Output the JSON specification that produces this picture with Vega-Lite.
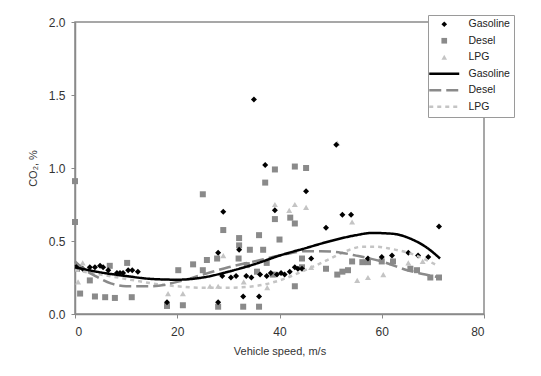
{
  "$schema": "https://vega.github.io/schema/vega-lite/v6.json",
  "width": 409,
  "height": 292,
  "autosize": "none",
  "padding": {"left": 75, "top": 22, "right": 57, "bottom": 62},
  "background": "white",
  "config": {
    "view": {"stroke": "#8a8a8a", "strokeWidth": 1.5},
    "font": "Liberation Sans",
    "axis": {
      "grid": false,
      "domainColor": "#8a8a8a",
      "domainWidth": 1.5,
      "tickColor": "#8a8a8a",
      "labelFont": "Liberation Sans",
      "labelFontSize": 12,
      "labelColor": "#333333",
      "titleFont": "Liberation Sans",
      "titleFontSize": 11,
      "titleFontWeight": "normal",
      "titleColor": "#333333"
    }
  },
  "datasets": {
    "pts": [
      {"fuel": "LPG", "speed": 0.6, "co2": 0.22},
      {"fuel": "LPG", "speed": 1.5, "co2": 0.35},
      {"fuel": "LPG", "speed": 3.0, "co2": 0.30},
      {"fuel": "LPG", "speed": 18.2, "co2": 0.14},
      {"fuel": "LPG", "speed": 21.1, "co2": 0.14},
      {"fuel": "LPG", "speed": 26.4, "co2": 0.19},
      {"fuel": "LPG", "speed": 28.0, "co2": 0.19},
      {"fuel": "LPG", "speed": 29.0, "co2": 0.40},
      {"fuel": "LPG", "speed": 33.0, "co2": 0.22},
      {"fuel": "LPG", "speed": 37.6, "co2": 0.18},
      {"fuel": "LPG", "speed": 39.1, "co2": 0.75},
      {"fuel": "LPG", "speed": 41.9, "co2": 0.71},
      {"fuel": "LPG", "speed": 43.0, "co2": 0.75},
      {"fuel": "LPG", "speed": 45.2, "co2": 0.73},
      {"fuel": "LPG", "speed": 46.2, "co2": 0.32},
      {"fuel": "LPG", "speed": 51.3, "co2": 1.17},
      {"fuel": "LPG", "speed": 54.2, "co2": 0.63},
      {"fuel": "LPG", "speed": 55.2, "co2": 0.23},
      {"fuel": "LPG", "speed": 57.3, "co2": 0.25},
      {"fuel": "LPG", "speed": 60.3, "co2": 0.27},
      {"fuel": "LPG", "speed": 62.0, "co2": 0.35},
      {"fuel": "LPG", "speed": 65.2, "co2": 0.35},
      {"fuel": "LPG", "speed": 68.0, "co2": 0.36},
      {"fuel": "Desel", "speed": 0.0, "co2": 0.91},
      {"fuel": "Desel", "speed": 0.0, "co2": 0.63},
      {"fuel": "Desel", "speed": 0.4, "co2": 0.31},
      {"fuel": "Desel", "speed": 1.0, "co2": 0.14},
      {"fuel": "Desel", "speed": 2.9, "co2": 0.23},
      {"fuel": "Desel", "speed": 3.9, "co2": 0.12},
      {"fuel": "Desel", "speed": 5.9, "co2": 0.115},
      {"fuel": "Desel", "speed": 7.8, "co2": 0.11},
      {"fuel": "Desel", "speed": 6.8, "co2": 0.33},
      {"fuel": "Desel", "speed": 10.2, "co2": 0.35},
      {"fuel": "Desel", "speed": 11.1, "co2": 0.115},
      {"fuel": "Desel", "speed": 18.0, "co2": 0.055},
      {"fuel": "Desel", "speed": 21.1, "co2": 0.06},
      {"fuel": "Desel", "speed": 20.2, "co2": 0.30},
      {"fuel": "Desel", "speed": 23.1, "co2": 0.34},
      {"fuel": "Desel", "speed": 25.0, "co2": 0.82},
      {"fuel": "Desel", "speed": 25.0, "co2": 0.30},
      {"fuel": "Desel", "speed": 25.8, "co2": 0.37},
      {"fuel": "Desel", "speed": 27.8, "co2": 0.38},
      {"fuel": "Desel", "speed": 28.0, "co2": 0.05},
      {"fuel": "Desel", "speed": 29.0, "co2": 0.575},
      {"fuel": "Desel", "speed": 32.1, "co2": 0.52},
      {"fuel": "Desel", "speed": 32.1, "co2": 0.47},
      {"fuel": "Desel", "speed": 32.0, "co2": 0.38},
      {"fuel": "Desel", "speed": 33.6, "co2": 0.335},
      {"fuel": "Desel", "speed": 32.9, "co2": 0.05},
      {"fuel": "Desel", "speed": 34.2, "co2": 0.44},
      {"fuel": "Desel", "speed": 35.6, "co2": 0.29},
      {"fuel": "Desel", "speed": 36.0, "co2": 0.54},
      {"fuel": "Desel", "speed": 36.0, "co2": 0.05},
      {"fuel": "Desel", "speed": 36.8, "co2": 0.44},
      {"fuel": "Desel", "speed": 37.2, "co2": 0.90},
      {"fuel": "Desel", "speed": 37.5, "co2": 0.35},
      {"fuel": "Desel", "speed": 38.7, "co2": 0.27},
      {"fuel": "Desel", "speed": 39.1, "co2": 0.99},
      {"fuel": "Desel", "speed": 39.1, "co2": 0.65},
      {"fuel": "Desel", "speed": 40.0, "co2": 0.51},
      {"fuel": "Desel", "speed": 42.1, "co2": 0.66},
      {"fuel": "Desel", "speed": 43.0, "co2": 0.62},
      {"fuel": "Desel", "speed": 43.0, "co2": 1.01},
      {"fuel": "Desel", "speed": 45.2, "co2": 1.00},
      {"fuel": "Desel", "speed": 43.0, "co2": 0.19},
      {"fuel": "Desel", "speed": 44.4, "co2": 0.38},
      {"fuel": "Desel", "speed": 44.4, "co2": 0.32},
      {"fuel": "Desel", "speed": 49.1, "co2": 0.31},
      {"fuel": "Desel", "speed": 51.3, "co2": 0.27},
      {"fuel": "Desel", "speed": 52.3, "co2": 0.29},
      {"fuel": "Desel", "speed": 53.4, "co2": 0.30},
      {"fuel": "Desel", "speed": 54.2, "co2": 0.36},
      {"fuel": "Desel", "speed": 56.2, "co2": 0.355},
      {"fuel": "Desel", "speed": 57.3, "co2": 0.355},
      {"fuel": "Desel", "speed": 60.0, "co2": 0.36},
      {"fuel": "Desel", "speed": 62.2, "co2": 0.36},
      {"fuel": "Desel", "speed": 65.6, "co2": 0.31},
      {"fuel": "Desel", "speed": 66.9, "co2": 0.30},
      {"fuel": "Desel", "speed": 69.5, "co2": 0.25},
      {"fuel": "Desel", "speed": 71.2, "co2": 0.25},
      {"fuel": "Gasoline", "speed": 0.5, "co2": 0.33},
      {"fuel": "Gasoline", "speed": 1.5, "co2": 0.31},
      {"fuel": "Gasoline", "speed": 2.9, "co2": 0.32},
      {"fuel": "Gasoline", "speed": 3.9, "co2": 0.32},
      {"fuel": "Gasoline", "speed": 4.9, "co2": 0.33},
      {"fuel": "Gasoline", "speed": 5.5, "co2": 0.32},
      {"fuel": "Gasoline", "speed": 6.5, "co2": 0.30},
      {"fuel": "Gasoline", "speed": 8.2, "co2": 0.28},
      {"fuel": "Gasoline", "speed": 8.8, "co2": 0.28},
      {"fuel": "Gasoline", "speed": 9.4, "co2": 0.28},
      {"fuel": "Gasoline", "speed": 10.4, "co2": 0.30},
      {"fuel": "Gasoline", "speed": 11.2, "co2": 0.30},
      {"fuel": "Gasoline", "speed": 12.3, "co2": 0.29},
      {"fuel": "Gasoline", "speed": 18.0, "co2": 0.08},
      {"fuel": "Gasoline", "speed": 28.0, "co2": 0.08},
      {"fuel": "Gasoline", "speed": 28.0, "co2": 0.42},
      {"fuel": "Gasoline", "speed": 29.0, "co2": 0.70},
      {"fuel": "Gasoline", "speed": 28.8, "co2": 0.26},
      {"fuel": "Gasoline", "speed": 30.5, "co2": 0.25},
      {"fuel": "Gasoline", "speed": 31.5, "co2": 0.26},
      {"fuel": "Gasoline", "speed": 32.1, "co2": 0.44},
      {"fuel": "Gasoline", "speed": 32.9, "co2": 0.12},
      {"fuel": "Gasoline", "speed": 33.5, "co2": 0.26},
      {"fuel": "Gasoline", "speed": 34.5, "co2": 0.25},
      {"fuel": "Gasoline", "speed": 35.0, "co2": 1.47},
      {"fuel": "Gasoline", "speed": 36.0, "co2": 0.12},
      {"fuel": "Gasoline", "speed": 36.2, "co2": 0.27},
      {"fuel": "Gasoline", "speed": 37.2, "co2": 1.02},
      {"fuel": "Gasoline", "speed": 37.5, "co2": 0.26},
      {"fuel": "Gasoline", "speed": 38.3, "co2": 0.28},
      {"fuel": "Gasoline", "speed": 39.1, "co2": 0.71},
      {"fuel": "Gasoline", "speed": 39.5, "co2": 0.27},
      {"fuel": "Gasoline", "speed": 40.3, "co2": 0.28},
      {"fuel": "Gasoline", "speed": 41.0, "co2": 0.27},
      {"fuel": "Gasoline", "speed": 42.0, "co2": 0.29},
      {"fuel": "Gasoline", "speed": 43.0, "co2": 0.32},
      {"fuel": "Gasoline", "speed": 43.6, "co2": 0.31},
      {"fuel": "Gasoline", "speed": 44.4, "co2": 0.31},
      {"fuel": "Gasoline", "speed": 45.2, "co2": 0.84},
      {"fuel": "Gasoline", "speed": 46.2, "co2": 0.38},
      {"fuel": "Gasoline", "speed": 49.1, "co2": 0.59},
      {"fuel": "Gasoline", "speed": 51.1, "co2": 1.16},
      {"fuel": "Gasoline", "speed": 52.3, "co2": 0.68},
      {"fuel": "Gasoline", "speed": 54.0, "co2": 0.68},
      {"fuel": "Gasoline", "speed": 57.3, "co2": 0.38},
      {"fuel": "Gasoline", "speed": 60.0, "co2": 0.39},
      {"fuel": "Gasoline", "speed": 62.0, "co2": 0.40},
      {"fuel": "Gasoline", "speed": 65.2, "co2": 0.42},
      {"fuel": "Gasoline", "speed": 67.1, "co2": 0.40},
      {"fuel": "Gasoline", "speed": 69.1, "co2": 0.39},
      {"fuel": "Gasoline", "speed": 71.2, "co2": 0.60}
    ],
    "fit": [
      {"fuel": "LPG fit", "speed": 0, "co2": 0.30},
      {"fuel": "LPG fit", "speed": 5, "co2": 0.27},
      {"fuel": "LPG fit", "speed": 10, "co2": 0.24},
      {"fuel": "LPG fit", "speed": 15, "co2": 0.21},
      {"fuel": "LPG fit", "speed": 20, "co2": 0.19},
      {"fuel": "LPG fit", "speed": 25, "co2": 0.18},
      {"fuel": "LPG fit", "speed": 30, "co2": 0.18},
      {"fuel": "LPG fit", "speed": 35, "co2": 0.19},
      {"fuel": "LPG fit", "speed": 40, "co2": 0.23},
      {"fuel": "LPG fit", "speed": 45, "co2": 0.30},
      {"fuel": "LPG fit", "speed": 50, "co2": 0.38},
      {"fuel": "LPG fit", "speed": 53, "co2": 0.43},
      {"fuel": "LPG fit", "speed": 56, "co2": 0.46},
      {"fuel": "LPG fit", "speed": 59, "co2": 0.46},
      {"fuel": "LPG fit", "speed": 62, "co2": 0.445},
      {"fuel": "LPG fit", "speed": 66, "co2": 0.41},
      {"fuel": "LPG fit", "speed": 71, "co2": 0.33},
      {"fuel": "Desel fit", "speed": 0, "co2": 0.36},
      {"fuel": "Desel fit", "speed": 2, "co2": 0.30},
      {"fuel": "Desel fit", "speed": 4, "co2": 0.26},
      {"fuel": "Desel fit", "speed": 7, "co2": 0.21},
      {"fuel": "Desel fit", "speed": 10, "co2": 0.19},
      {"fuel": "Desel fit", "speed": 15, "co2": 0.19},
      {"fuel": "Desel fit", "speed": 20, "co2": 0.22},
      {"fuel": "Desel fit", "speed": 25, "co2": 0.27},
      {"fuel": "Desel fit", "speed": 30, "co2": 0.32},
      {"fuel": "Desel fit", "speed": 35, "co2": 0.36},
      {"fuel": "Desel fit", "speed": 40, "co2": 0.40},
      {"fuel": "Desel fit", "speed": 45, "co2": 0.43},
      {"fuel": "Desel fit", "speed": 48, "co2": 0.43},
      {"fuel": "Desel fit", "speed": 52, "co2": 0.42},
      {"fuel": "Desel fit", "speed": 55, "co2": 0.40},
      {"fuel": "Desel fit", "speed": 60, "co2": 0.36},
      {"fuel": "Desel fit", "speed": 65, "co2": 0.30},
      {"fuel": "Desel fit", "speed": 70, "co2": 0.26},
      {"fuel": "Desel fit", "speed": 71.4, "co2": 0.25},
      {"fuel": "Gasoline fit", "speed": 0, "co2": 0.32},
      {"fuel": "Gasoline fit", "speed": 5, "co2": 0.285},
      {"fuel": "Gasoline fit", "speed": 10, "co2": 0.26},
      {"fuel": "Gasoline fit", "speed": 15, "co2": 0.24},
      {"fuel": "Gasoline fit", "speed": 20, "co2": 0.235},
      {"fuel": "Gasoline fit", "speed": 25, "co2": 0.25},
      {"fuel": "Gasoline fit", "speed": 30, "co2": 0.29},
      {"fuel": "Gasoline fit", "speed": 35, "co2": 0.34},
      {"fuel": "Gasoline fit", "speed": 40, "co2": 0.40},
      {"fuel": "Gasoline fit", "speed": 45, "co2": 0.45},
      {"fuel": "Gasoline fit", "speed": 50, "co2": 0.50},
      {"fuel": "Gasoline fit", "speed": 55, "co2": 0.54},
      {"fuel": "Gasoline fit", "speed": 58, "co2": 0.555},
      {"fuel": "Gasoline fit", "speed": 62, "co2": 0.55},
      {"fuel": "Gasoline fit", "speed": 66, "co2": 0.51},
      {"fuel": "Gasoline fit", "speed": 69, "co2": 0.45},
      {"fuel": "Gasoline fit", "speed": 71.4, "co2": 0.38}
    ]
  },
  "encoding": {
    "x": {
      "field": "speed", "type": "quantitative",
      "scale": {"domain": [0, 80], "nice": false},
      "axis": {"values": [0, 20, 40, 60, 80], "title": "Vehicle speed, m/s", "tickSize": 4, "labelPadding": 8, "titlePadding": 8}
    },
    "y": {
      "field": "co2", "type": "quantitative",
      "scale": {"domain": [0, 2], "nice": false},
      "axis": {"values": [0, 0.5, 1, 1.5, 2], "format": ".1f", "title": "CO₂, %", "tickSize": 4, "labelPadding": 6, "titlePadding": 10}
    },
    "color": {
      "field": "fuel", "type": "nominal",
      "scale": {
        "domain": ["Gasoline", "Desel", "LPG", "Gasoline fit", "Desel fit", "LPG fit"],
        "range": ["#000000", "#8a8a8a", "#c4c4c4", "#000000", "#8a8a8a", "#c4c4c4"]
      },
      "legend": {
        "title": null,
        "orient": "none",
        "legendX": 353,
        "legendY": -7,
        "strokeColor": "#9a9a9a",
        "fillColor": "#ffffff",
        "padding": 4,
        "labelFont": "Liberation Sans",
        "labelFontSize": 10.5,
        "labelColor": "#222222",
        "labelOffset": 19,
        "symbolOffset": 7,
        "symbolSize": 60,
        "rowPadding": 5.5,
        "labelExpr": "replace(datum.label, ' fit', '')",
        "encode": {
          "symbols": {
            "update": {
              "shape": {"signal": "datum.index == 0 ? 'diamond' : datum.index == 1 ? 'square' : datum.index == 2 ? 'triangle-up' : 'stroke'"},
              "size": {"signal": "datum.index < 3 ? 32 : 900"},
              "strokeDash": {"signal": "datum.index == 4 ? [12, 5] : datum.index == 5 ? [4, 4] : [1, 0]"},
              "strokeWidth": {"signal": "datum.index < 3 ? 0 : 2.5"},
              "fill": {"signal": "datum.index < 3 ? scale('color', datum.value) : 'transparent'"},
              "stroke": {"signal": "scale('color', datum.value)"},
              "opacity": {"value": 1}
            }
          }
        }
      }
    }
  },
  "layer": [
    {
      "data": {"name": "pts"},
      "mark": {"type": "point", "filled": true, "size": 36, "opacity": 1},
      "encoding": {
        "shape": {
          "field": "fuel", "type": "nominal",
          "scale": {"domain": ["Gasoline", "Desel", "LPG"], "range": ["diamond", "square", "triangle-up"]},
          "legend": null
        }
      }
    },
    {
      "data": {"name": "fit"},
      "mark": {"type": "line", "strokeWidth": 2.5, "interpolate": "monotone"},
      "encoding": {
        "strokeDash": {
          "field": "fuel", "type": "nominal",
          "scale": {"domain": ["Gasoline fit", "Desel fit", "LPG fit"], "range": [[1, 0], [12, 5], [4, 4]]},
          "legend": null
        }
      }
    }
  ]
}
